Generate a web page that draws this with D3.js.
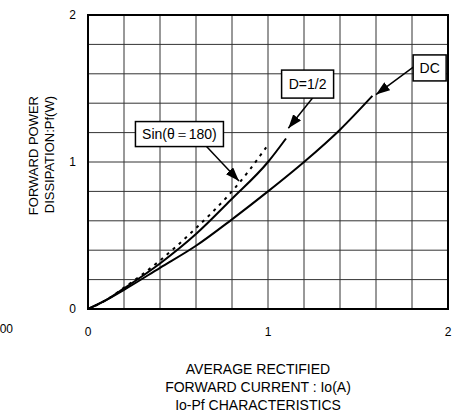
<!DOCTYPE html>
<html>
<head>
<meta charset="utf-8">
<script src="https://cdn.jsdelivr.net/npm/d3@7"></script>
<style>
	html, body { margin: 0; padding: 0; background: #fff; }
	svg { display: block; font-family: "Liberation Sans", Arial, sans-serif; }
</style>
</head>
<body>
<div id="chart"></div>
<script>
// values (Io in A, Pf in W)
const dcIo = [0, 0.1, 0.2, 0.4, 0.6, 0.8, 1.0, 1.2, 1.4, 1.58];
const dcPf = [0, 0.06, 0.13, 0.28, 0.43, 0.61, 0.80, 1.0, 1.22, 1.45];

const halfIo = [0, 0.1, 0.2, 0.4, 0.6, 0.8, 1.0, 1.1];
const halfPf = [0, 0.06, 0.14, 0.31, 0.51, 0.75, 1.0, 1.16];

const sinIo = [0, 0.1, 0.2, 0.4, 0.6, 0.7, 0.8, 0.9, 0.99];
const sinPf = [0, 0.06, 0.145, 0.33, 0.55, 0.67, 0.80, 0.95, 1.10];

const xTicks = [0, 1, 2];
const yTicks = [0, 1, 2];
const gridSteps = d3.range(0, 2.0001, 0.2);

const xLabelLines = ["AVERAGE RECTIFIED", "FORWARD CURRENT : Io(A)", "Io-Pf CHARACTERISTICS"];
const yLabelLines = ["FORWARD POWER", "DISSIPATION:Pf(W)"];

// annotation boxes: label, box centre, arrow start and tip (data units)
const notes = [
	{ text: "Sin(θ＝180)", at: [0.508, 1.19], w: 88, h: 25, from: [0.656, 1.109], to: [0.839, 0.871] },
	{ text: "D=1/2", at: [1.22, 1.53], w: 52, h: 28, from: [1.252, 1.442], to: [1.113, 1.229] },
	{ text: "DC", at: [1.898, 1.64], w: 33, h: 26, from: [1.807, 1.646], to: [1.6, 1.459] },
];

const W = 464, H = 414;
const svg = d3.select("#chart").append("svg").attr("width", W).attr("height", H);

const x = d3.scaleLinear().domain([0, 2]).range([88, 448]);
const y = d3.scaleLinear().domain([0, 2]).range([309, 15]);

// grid
const grid = svg.append("g").attr("stroke", "#333").attr("stroke-width", 1);
grid.selectAll("line.v").data(gridSteps).join("line")
	.attr("x1", (d) => x(d)).attr("x2", (d) => x(d))
	.attr("y1", y(0)).attr("y2", y(2));
grid.selectAll("line.h").data(gridSteps).join("line")
	.attr("x1", x(0)).attr("x2", x(2))
	.attr("y1", (d) => y(d)).attr("y2", (d) => y(d));

// frame
svg.append("rect")
	.attr("x", x(0)).attr("y", y(2))
	.attr("width", x(2) - x(0)).attr("height", y(0) - y(2))
	.attr("fill", "none").attr("stroke", "#000").attr("stroke-width", 2);

// tick labels
svg.append("g").selectAll("text").data(xTicks).join("text")
	.attr("x", (d) => x(d)).attr("y", 336)
	.attr("text-anchor", "middle").attr("font-size", 12)
	.text((d) => d);
svg.append("g").selectAll("text").data(yTicks).join("text")
	.attr("x", 76).attr("y", (d) => y(d) + 4)
	.attr("text-anchor", "end").attr("font-size", 12)
	.text((d) => d);

// stray clipped label at far left
svg.append("text").attr("x", 13).attr("y", 333)
	.attr("text-anchor", "end").attr("font-size", 12).text("00");

// curves
const line = d3.line().x((d) => x(d[0])).y((d) => y(d[1])).curve(d3.curveMonotoneX);
const curves = [
	{ pts: d3.zip(dcIo, dcPf), dash: null },
	{ pts: d3.zip(halfIo, halfPf), dash: null },
	{ pts: d3.zip(sinIo, sinPf), dash: "3,5" },
];
svg.append("g").selectAll("path").data(curves).join("path")
	.attr("d", (d) => line(d.pts))
	.attr("fill", "none").attr("stroke", "#000").attr("stroke-width", 2)
	.attr("stroke-dasharray", (d) => d.dash);

// annotations
svg.append("defs").append("marker")
	.attr("id", "head").attr("viewBox", "0 0 14 10")
	.attr("refX", 14).attr("refY", 5)
	.attr("markerWidth", 14).attr("markerHeight", 10)
	.attr("markerUnits", "userSpaceOnUse")
	.attr("orient", "auto")
	.append("path").attr("d", "M0,0 L14,5 L0,10 Z").attr("fill", "#000");

const ann = svg.append("g");
notes.forEach((n) => {
	ann.append("line")
		.attr("x1", x(n.from[0])).attr("y1", y(n.from[1]))
		.attr("x2", x(n.to[0])).attr("y2", y(n.to[1]))
		.attr("stroke", "#000").attr("stroke-width", 1.5)
		.attr("marker-end", "url(#head)");
	const cx = x(n.at[0]), cy = y(n.at[1]);
	ann.append("rect")
		.attr("x", cx - n.w / 2).attr("y", cy - n.h / 2)
		.attr("width", n.w).attr("height", n.h)
		.attr("fill", "#fff").attr("stroke", "#000").attr("stroke-width", 1.5);
	ann.append("text")
		.attr("x", cx).attr("y", cy + 5)
		.attr("text-anchor", "middle").attr("font-size", 14)
		.text(n.text);
});

// axis titles
svg.append("g").selectAll("text").data(xLabelLines).join("text")
	.attr("x", 258).attr("y", (d, i) => 374 + i * 18)
	.attr("text-anchor", "middle").attr("font-size", 14)
	.text((d) => d);

svg.append("g").selectAll("text").data(yLabelLines).join("text")
	.attr("transform", (d, i) => `translate(${38 + i * 16},96) rotate(-90)`)
	.attr("text-anchor", "end").attr("font-size", 13)
	.text((d) => d);
</script>
</body>
</html>
